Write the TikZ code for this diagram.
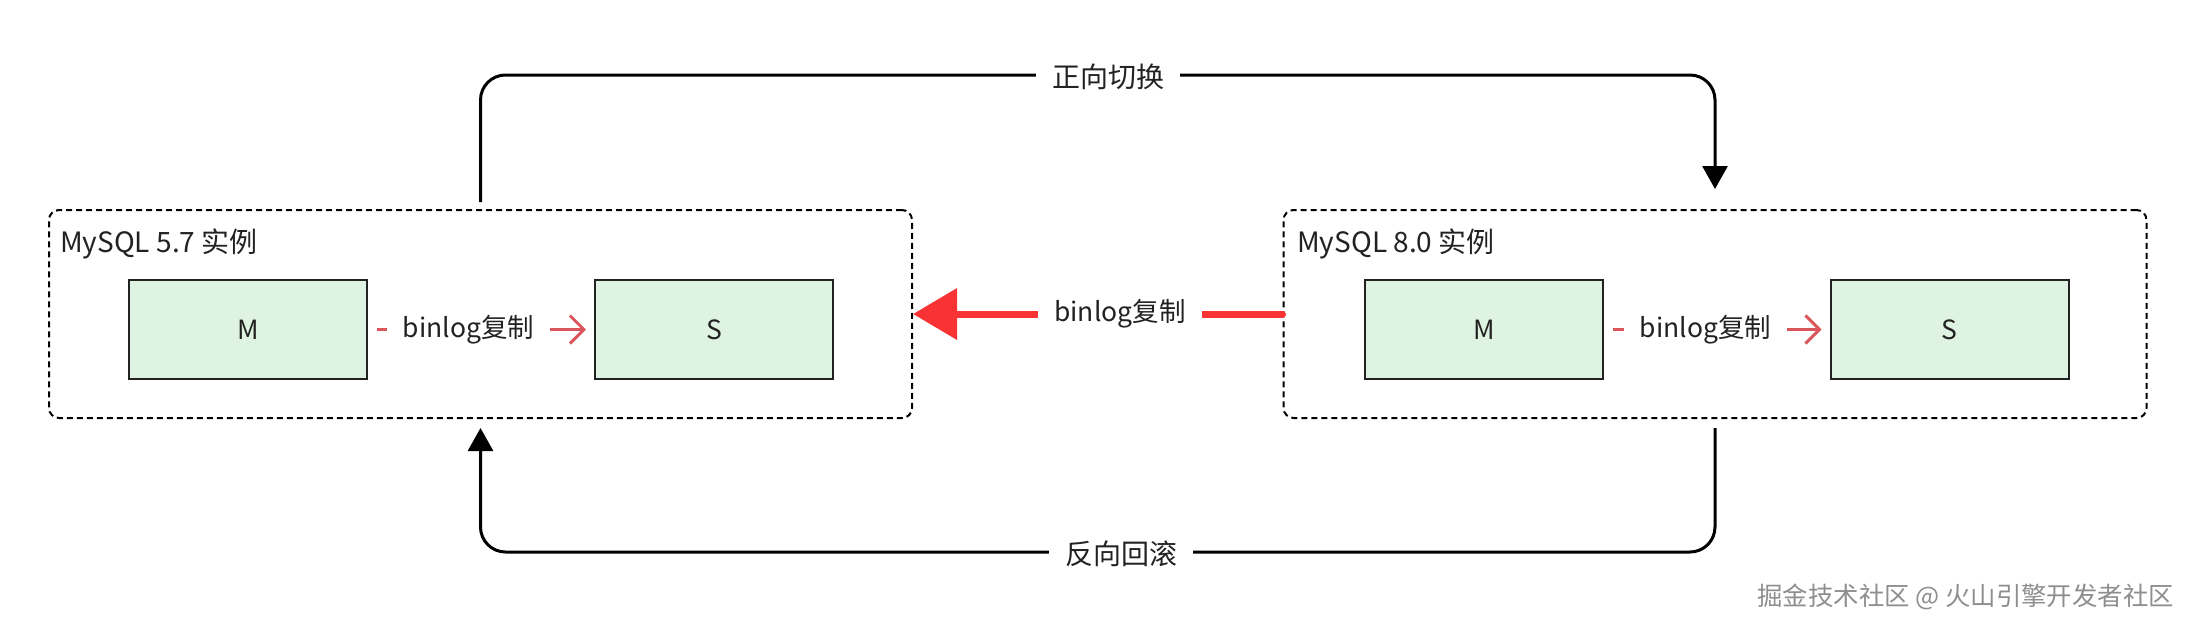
\documentclass[tikz,border=0pt]{standalone}
\usepackage{fontspec}
\setmainfont{Noto Sans CJK SC}
\usetikzlibrary{arrows.meta}
\definecolor{boxfill}{HTML}{DFF3E2}
\definecolor{repl}{HTML}{D9575C}
\definecolor{bigred}{HTML}{F93333}
\definecolor{txt}{HTML}{222222}
\definecolor{wmc}{HTML}{8E8E8E}
\begin{document}
\begin{tikzpicture}[x=1pt,y=-1pt,
  every node/.style={font=\fontsize{26.5}{30}\selectfont, text=txt},
  container/.style={draw=black, line width=2pt, dash pattern=on 6pt off 4pt, rounded corners=10pt, minimum width=863pt, minimum height=208pt, inner sep=0pt},
  dbbox/.style={draw=txt, line width=2pt, fill=boxfill, minimum width=238pt, minimum height=99pt, inner sep=0pt},
  lbl/.style={fill=white, inner xsep=16pt, inner ysep=2pt},
  flowlbl/.style={fill=white, inner xsep=16pt, inner ysep=2pt, font=\fontsize{28}{32}\selectfont},
  title/.style={anchor=base west, inner sep=0pt, font=\fontsize{28}{32}\selectfont},
  repline/.style={draw=repl, line width=3pt, -{Straight Barb[length=14pt,width=28pt]}, shorten <=9pt, shorten >=8pt},
  bigline/.style={draw=bigred, line width=7pt, line cap=round, -{Triangle[length=44pt,width=50pt]}},
  flow/.style={draw=black, line width=3pt, rounded corners=25pt, -{Triangle[length=23pt,width=25pt]}},
]
\useasboundingbox[fill=white] (0,0) rectangle (2196,630);

\node[container] (c1) at (480.5,314) {};
\node[container] (c2) at (1715,314) {};
\node[title] (t1) at (60,252) {MySQL 5.7 实例};
\node[title] (t2) at (1297,252) {MySQL 8.0 实例};

\node[dbbox] (m1) at (248,329.5) {M};
\node[dbbox] (s1) at (714,329.5) {S};
\node[dbbox] (m2) at (1484.25,329.5) {M};
\node[dbbox] (s2) at (1949.5,329.5) {S};

\draw[repline] (m1) -- node[lbl, pos=0.445] (r1) {binlog复制} (s1);
\draw[repline] (m2) -- node[lbl, pos=0.45] (r2) {binlog复制} (s2);

\draw[bigline] (c2.west) -- node[lbl, pos=0.44] (r3) {binlog复制} (c1.east);

\coordinate (uL) at (480.5,75);
\coordinate (uR) at (1715,75);
\draw[flow, shorten <=7pt, shorten >=20pt] (c1.north) -- (uL) -- (uR) -- (c2.north);
\node[flowlbl] (f1) at (1108,77) {正向切换};

\coordinate (dR) at (1715,552);
\coordinate (dL) at (480.5,552);
\draw[flow, shorten <=9pt, shorten >=9pt] (c2.south) -- (dR) -- (dL) -- (c1.south);
\node[flowlbl] (f2) at (1121,554) {反向回滚};

\node[anchor=east, text=wmc, font=\fontsize{25.4}{28}\selectfont, inner sep=0pt] (wm) at (2174,597) {掘金技术社区 @ 火山引擎开发者社区};
\end{tikzpicture}
\end{document}
